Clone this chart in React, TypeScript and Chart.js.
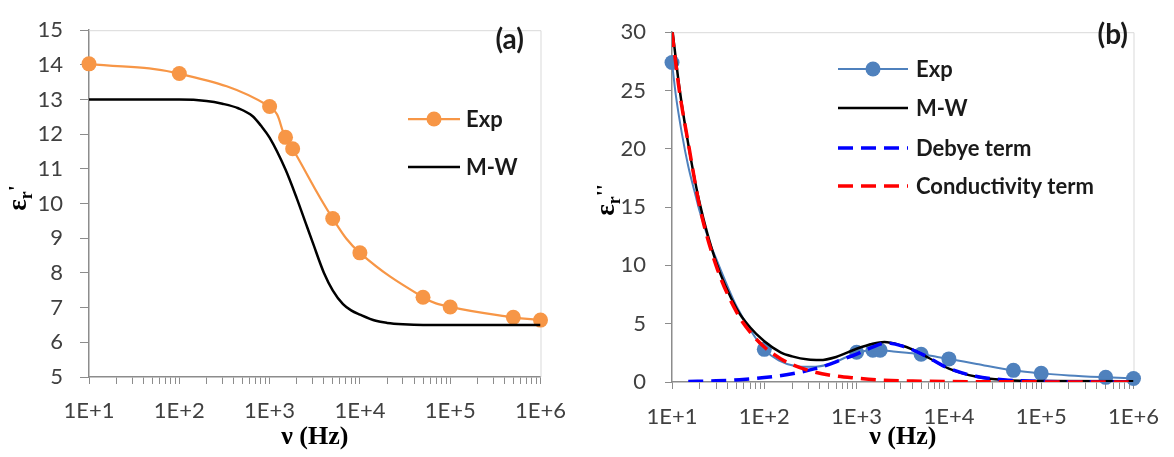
import React, { useEffect, useRef } from 'react';
import { Chart, registerables } from 'chart.js';

Chart.register(...registerables);

// ---------- axis ticks ----------
const X_DECADES = [10, 100, 1000, 10000, 100000, 1000000];
const X_TICK_LABELS = ['1E+1', '1E+2', '1E+3', '1E+4', '1E+5', '1E+6'];
const Y_TICKS_A = [5, 6, 7, 8, 9, 10, 11, 12, 13, 14, 15];
const Y_TICKS_B = [0, 2.5, 5, 7.5, 10, 12.5, 15, 17.5, 20, 22.5, 25, 27.5, 30];
const Y_LABELED_B = [0, 5, 10, 15, 20, 25, 30];

// ---------- panel (a): real permittivity ----------
const expFreqA = [10, 100, 1000, 1500, 1800, 5000, 10000, 50000, 100000, 500000, 1000000];
const expEpsA = [14.03, 13.75, 12.8, 11.91, 11.58, 9.57, 8.58, 7.3, 7.02, 6.72, 6.64];

const mwFreqA = [10, 100, 200, 300, 450, 650, 800, 1000, 1500, 2000, 2500, 3000, 4000, 5000, 6500, 8000, 10000, 15000, 20000, 30000, 50000, 1000000];
const mwEpsA = [13.0, 13.0, 12.96, 12.88, 12.75, 12.52, 12.25, 11.9, 10.98, 10.15, 9.45, 8.88, 8.0, 7.5, 7.1, 6.92, 6.8, 6.62, 6.56, 6.52, 6.5, 6.5];

// ---------- panel (b): imaginary permittivity ----------
const expFreqB = [10, 100, 1000, 1500, 1800, 5000, 10000, 50000, 100000, 500000, 1000000];
const expEpsB = [27.4, 2.8, 2.55, 2.72, 2.72, 2.38, 1.98, 1.0, 0.74, 0.4, 0.3];

// smoothed connecting line of the Exp series
const expCurveFreqB = [10, 11, 12.8, 15, 18, 20, 25, 30, 40, 50, 70, 100, 143, 215, 325, 525, 870, 1000, 1300, 1500, 1800, 2500, 3500, 5000, 7500, 10000, 20000, 50000, 100000, 200000, 500000, 1000000];
const expCurveEpsB = [27.4, 24.6, 21.3, 18.5, 16.0, 14.6, 12.2, 10.6, 8.2, 6.5, 4.5, 2.8, 1.85, 1.38, 1.3, 1.57, 2.33, 2.55, 2.68, 2.72, 2.72, 2.62, 2.5, 2.38, 2.15, 1.98, 1.55, 1.0, 0.74, 0.56, 0.4, 0.3];

const mwFreqB = [10, 12, 15, 20, 30, 50, 70, 100, 150, 200, 300, 400, 600, 1000, 1500, 2000, 3000, 4000, 6000, 10000, 20000, 40000, 100000, 1000000];
const mwEpsB = [30.5, 25.3, 20.4, 15.3, 10.3, 6.3, 4.7, 3.5, 2.55, 2.2, 1.92, 1.88, 2.15, 2.85, 3.28, 3.42, 3.15, 2.8, 2.08, 1.15, 0.45, 0.18, 0.09, 0.07];

const debyeFreq = [15, 30, 54, 100, 200, 400, 700, 1000, 1400, 2100, 3200, 5300, 9400, 19500, 44000, 100000, 1000000];
const debyeEps = [0.05, 0.1, 0.2, 0.38, 0.7, 1.25, 1.93, 2.4, 2.9, 3.35, 3.05, 2.33, 1.25, 0.49, 0.16, 0.05, 0.0];

const condFreq = [10, 12, 15, 20, 30, 50, 70, 100, 150, 200, 300, 500, 1000, 2000, 5000, 10000, 100000, 1000000];
const condEps = [30, 25, 20.5, 15, 10, 6, 4.3, 3.0, 2.0, 1.5, 1.0, 0.6, 0.33, 0.15, 0.07, 0.04, 0.01, 0.0];

// ---------- styles ----------
const TICK_FONT = { family: 'Lato', size: 22 };
const TICK_COLOR = '#404040';
const AXIS_COLOR = '#8c8c8c';
const LEGEND_FONT = 'bold 22px Lato';
const TEXT_COLOR = '#1a1a1a';
const FRAME_COLOR = '#d9d9d9';

const pts = (xs: number[], ys: number[]) => xs.map((x, i) => ({ x, y: ys[i] }));

const buildLogTicks = () => {
  const t: { value: number; major?: boolean }[] = [];
  for (let d = 0; d < X_DECADES.length; d++) {
    const base = X_DECADES[d];
    if (d === X_DECADES.length - 1) {
      t.push({ value: base, major: true });
      break;
    }
    for (let m = 1; m < 10; m++) t.push({ value: base * m, major: m === 1 });
  }
  return t;
};

const framePlugin = {
  id: 'frame',
  beforeDatasetsDraw(chart: any) {
    const { ctx, chartArea } = chart;
    ctx.save();
    ctx.strokeStyle = FRAME_COLOR;
    ctx.lineWidth = 1;
    ctx.beginPath();
    ctx.moveTo(chartArea.left, chartArea.top + 0.5);
    ctx.lineTo(chartArea.right + 0.5, chartArea.top + 0.5);
    ctx.lineTo(chartArea.right + 0.5, chartArea.bottom);
    ctx.stroke();
    ctx.restore();
  },
};

const legendPlugin = {
  id: 'customLegend',
  afterDraw(chart: any, _args: any, opts: any) {
    const { ctx } = chart;
    ctx.save();
    let row = 0;
    chart.data.datasets.forEach((ds: any) => {
      if (ds.legendSkip) return;
      const y = opts.ys[row++];
      ctx.strokeStyle = ds.borderColor;
      ctx.lineWidth = ds.legendLineWidth || ds.borderWidth;
      ctx.setLineDash(ds.borderDash || []);
      ctx.beginPath();
      ctx.moveTo(opts.x1, y);
      ctx.lineTo(opts.x2, y);
      ctx.stroke();
      ctx.setLineDash([]);
      if (ds.pointRadius > 0) {
        ctx.fillStyle = ds.pointBackgroundColor;
        ctx.beginPath();
        ctx.arc((opts.x1 + opts.x2) / 2, y, ds.pointRadius, 0, Math.PI * 2);
        ctx.fill();
      }
      ctx.fillStyle = TEXT_COLOR;
      ctx.font = LEGEND_FONT;
      ctx.textAlign = 'left';
      ctx.textBaseline = 'middle';
      ctx.fillText(ds.label, opts.xText, y + 1);
    });
    ctx.font = 'bold 28px Lato';
    ctx.textAlign = 'right';
    ctx.textBaseline = 'middle';
    ctx.fillStyle = TEXT_COLOR;
    ctx.fillText(opts.tag, opts.tagX, opts.tagY);
    ctx.restore();
  },
};

const yTitlePlugin = {
  id: 'yTitle',
  afterDraw(chart: any, _args: any, opts: any) {
    const { ctx } = chart;
    ctx.save();
    ctx.translate(opts.x, opts.y);
    ctx.rotate(-Math.PI / 2);
    ctx.fillStyle = '#000';
    ctx.textBaseline = 'alphabetic';
    ctx.textAlign = 'left';
    const f1 = 'bold 27px "Liberation Serif"';
    const f2 = 'bold 18px "Liberation Serif"';
    const f3 = 'bold 22px "Liberation Serif"';
    ctx.font = f1;
    const w1 = ctx.measureText('ε').width;
    ctx.font = f2;
    const w2 = ctx.measureText('r').width;
    ctx.font = f3;
    const w3 = ctx.measureText(opts.primes).width;
    let x = -(w1 + w2 + w3) / 2;
    ctx.font = f1;
    ctx.fillText('ε', x, 6);
    x += w1;
    ctx.font = f2;
    ctx.fillText('r', x, 12);
    x += w2;
    ctx.font = f3;
    ctx.fillText(opts.primes, x, 3);
    ctx.restore();
  },
};

const xScale = (height: number, pad: number) => ({
  type: 'logarithmic',
  min: 10,
  max: 1000000,
  afterBuildTicks: (axis: any) => {
    axis.ticks = buildLogTicks();
  },
  afterFit: (axis: any) => {
    axis.height = height;
  },
  ticks: {
    autoSkip: false,
    maxRotation: 0,
    minRotation: 0,
    padding: pad,
    font: TICK_FONT,
    color: TICK_COLOR,
    callback: (v: number) => {
      const i = X_DECADES.findIndex((d) => Math.abs(d - v) < 1e-6 * d);
      return i >= 0 ? X_TICK_LABELS[i] : '';
    },
  },
  grid: {
    drawOnChartArea: false,
    drawTicks: true,
    tickLength: 7,
    color: AXIS_COLOR,
    tickColor: AXIS_COLOR,
    tickWidth: 1,
  },
  border: { display: true, color: AXIS_COLOR, width: 1.5 },
  title: {
    display: true,
    text: 'ν (Hz)',
    color: '#000',
    font: { family: '"Liberation Serif"', size: 26, weight: 'bold' },
    padding: { top: 0, bottom: 4 },
  },
});

function makeConfigA(): any {
  return {
    type: 'line',
    data: {
      datasets: [
        {
          label: 'Exp',
          data: pts(expFreqA, expEpsA),
          borderColor: '#F79646',
          backgroundColor: '#F79646',
          pointBackgroundColor: '#F79646',
          pointBorderColor: '#F79646',
          pointBorderWidth: 0,
          pointRadius: 7.5,
          borderWidth: 2.25,
          tension: 0.4,
          clip: false,
          order: 2,
        },
        {
          label: 'M-W',
          data: pts(mwFreqA, mwEpsA),
          borderColor: '#000000',
          backgroundColor: '#000000',
          pointRadius: 0,
          borderWidth: 2.5,
          cubicInterpolationMode: 'monotone',
          order: 1,
        },
      ],
    },
    options: {
      animation: false,
      responsive: false,
      maintainAspectRatio: false,
      layout: { padding: { left: 0, right: 38, top: 13, bottom: 0 } },
      plugins: {
        legend: { display: false },
        tooltip: { enabled: false },
        customLegend: { x1: 408, x2: 460, xText: 466, ys: [119, 167], tag: '(a)', tagX: 524, tagY: 40 },
        yTitle: { x: 20, y: 198, primes: "'" },
      },
      scales: {
        x: xScale(80, 14),
        y: {
          type: 'linear',
          min: 5,
          max: 15,
          afterBuildTicks: (axis: any) => {
            axis.ticks = Y_TICKS_A.map((v) => ({ value: v }));
          },
          afterFit: (axis: any) => {
            axis.width = 89;
          },
          ticks: { padding: 17, font: TICK_FONT, color: TICK_COLOR },
          grid: { drawOnChartArea: false, drawTicks: true, tickLength: 9, color: AXIS_COLOR, tickColor: AXIS_COLOR },
          border: { display: true, color: AXIS_COLOR, width: 1.5 },
        },
      },
    },
    plugins: [framePlugin, legendPlugin, yTitlePlugin],
  };
}

function makeConfigB(): any {
  return {
    type: 'line',
    data: {
      datasets: [
        {
          label: 'Exp',
          data: pts(expFreqB, expEpsB),
          showLine: false,
          borderColor: '#4F81BD',
          backgroundColor: '#4F81BD',
          pointBackgroundColor: '#4F81BD',
          pointBorderColor: '#4F81BD',
          pointBorderWidth: 0,
          pointRadius: 7.5,
          borderWidth: 2,
          clip: false,
          order: 5,
        },
        {
          label: 'Exp line',
          legendSkip: true,
          data: pts(expCurveFreqB, expCurveEpsB),
          borderColor: '#4F81BD',
          pointRadius: 0,
          borderWidth: 2,
          cubicInterpolationMode: 'monotone',
          order: 4,
        },
        {
          label: 'M-W',
          data: pts(mwFreqB, mwEpsB),
          borderColor: '#000000',
          pointRadius: 0,
          borderWidth: 2.5,
          cubicInterpolationMode: 'monotone',
          order: 3,
        },
        {
          label: 'Debye term',
          data: pts(debyeFreq, debyeEps),
          borderColor: '#0000FF',
          pointRadius: 0,
          borderWidth: 3.5,
          borderDash: [15, 8],
          cubicInterpolationMode: 'monotone',
          order: 2,
        },
        {
          label: 'Conductivity term',
          data: pts(condFreq, condEps),
          borderColor: '#FF0000',
          pointRadius: 0,
          borderWidth: 3.5,
          borderDash: [15, 8],
          cubicInterpolationMode: 'monotone',
          order: 1,
        },
      ],
    },
    options: {
      animation: false,
      responsive: false,
      maintainAspectRatio: false,
      layout: { padding: { left: 0, right: 34, top: 13, bottom: 0 } },
      plugins: {
        legend: { display: false },
        tooltip: { enabled: false },
        customLegend: { x1: 258, x2: 328, xText: 336, ys: [69, 108, 148, 186], tag: '(b)', tagX: 548, tagY: 35 },
        yTitle: { x: 28, y: 200, primes: "''" },
      },
      scales: {
        x: xScale(75, 15),
        y: {
          type: 'linear',
          min: 0,
          max: 30,
          afterBuildTicks: (axis: any) => {
            axis.ticks = Y_TICKS_B.map((v) => ({ value: v }));
          },
          afterFit: (axis: any) => {
            axis.width = 92;
          },
          ticks: {
            padding: 19,
            font: TICK_FONT,
            color: TICK_COLOR,
            callback: (v: number) => (Y_LABELED_B.includes(v) ? String(v) : ''),
          },
          grid: { drawOnChartArea: false, drawTicks: true, tickLength: 7, color: AXIS_COLOR, tickColor: AXIS_COLOR },
          border: { display: true, color: AXIS_COLOR, width: 1.5 },
        },
      },
    },
    plugins: [framePlugin, legendPlugin, yTitlePlugin],
  };
}

function Panel({ width, height, make }: { width: number; height: number; make: () => any }) {
  const ref = useRef<HTMLCanvasElement | null>(null);
  useEffect(() => {
    if (!ref.current) return;
    const chart = new Chart(ref.current, make());
    return () => chart.destroy();
  }, [make]);
  return <canvas ref={ref} width={width} height={height} style={{ width, height, display: 'block' }} />;
}

export default function App() {
  return (
    <div
      style={{
        position: 'absolute',
        left: 0,
        top: 0,
        width: 1174,
        height: 457,
        display: 'flex',
        background: '#ffffff',
      }}
    >
      <Panel width={580} height={457} make={makeConfigA} />
      <Panel width={594} height={457} make={makeConfigB} />
    </div>
  );
}
